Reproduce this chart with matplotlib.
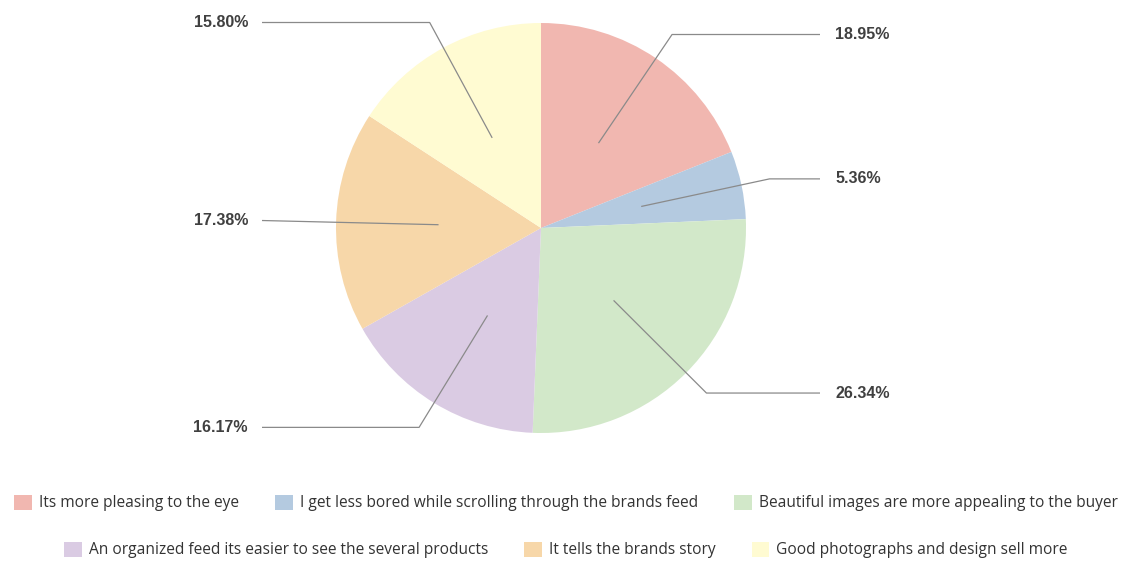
import numpy as np
import matplotlib.pyplot as plt

# survey answers, share of respondents (%)
labels = [
    "Its more pleasing to the eye",
    "I get less bored while scrolling through the brands feed",
    "Beautiful images are more appealing to the buyer",
    "An organized feed its easier to see the several products",
    "It tells the brands story",
    "Good photographs and design sell more",
]
shares = [18.95, 5.36, 26.34, 16.17, 17.38, 15.80]
colors = ["#F1B7B0", "#B4CAE0", "#D2E8C9", "#DACBE3", "#F7D7A9", "#FFFBD2"]

W, H = 1132, 561
fig = plt.figure(figsize=(W / 100, H / 100), dpi=100)
ax = fig.add_axes([0, 0, 1, 1])

cx, cy, R = 541, H - 228, 205
wedges, _ = ax.pie(shares, colors=colors, startangle=90, counterclock=False,
                   center=(cx, cy), radius=R, frame=True,
                   wedgeprops=dict(linewidth=0))
ax.set_xlim(0, W)
ax.set_ylim(0, H)
ax.set_aspect("equal")
ax.axis("off")

# leader lines: from inside the wedge out past the rim, then horizontal
for w, val in zip(wedges, shares):
    ang = np.deg2rad((w.theta1 + w.theta2) / 2)
    x0, y0 = cx + 0.5 * R * np.cos(ang), cy + 0.5 * R * np.sin(ang)
    x1, y1 = cx + 1.14 * R * np.cos(ang), cy + 1.14 * R * np.sin(ang)
    right = np.cos(ang) >= 0
    x2 = 820 if right else 262
    if not right and abs(np.sin(ang)) < 0.1:
        x1 = x2
    ax.plot([x0, x1, x2], [y0, y1, y1], color="#8a8a8a", lw=0.9,
            solid_capstyle="butt")
    ax.text(x2 + 15 if right else x2 - 14, y1, f"{val:.2f}%",
            ha="left" if right else "right", va="center",
            fontsize=11.5, fontweight="bold", color="#404040",
            family="Liberation Sans")

leg_kw = dict(frameon=False, ncol=3, handlelength=1.15, handleheight=1.15,
              handletextpad=0.45, borderaxespad=0,
              prop={"family": "Open Sans", "size": 11.2},
              labelcolor="#333333")
leg1 = fig.legend(wedges[:3], labels[:3], loc="center",
                  bbox_to_anchor=(0.5, 1 - 503 / H), columnspacing=2.3, **leg_kw)
leg2 = fig.legend(wedges[3:], labels[3:], loc="center",
                  bbox_to_anchor=(0.5, 1 - 550 / H), columnspacing=2.3, **leg_kw)

fig.savefig("out.png", dpi=100, facecolor="white")
